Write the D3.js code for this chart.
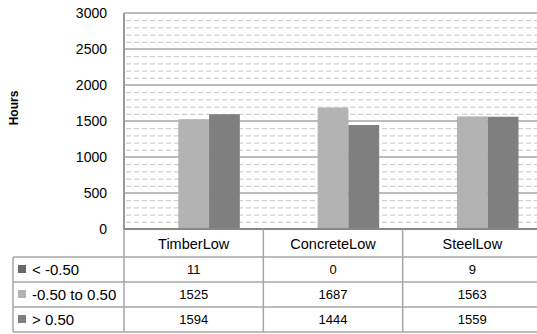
<!DOCTYPE html>
<html>
<head>
<meta charset="utf-8">
<script src="https://cdn.jsdelivr.net/npm/d3@7"></script>
<style>
  html, body { margin: 0; padding: 0; background: #fff; overflow: hidden; }
  svg { display: block; font-family: "Liberation Sans", Arial, sans-serif; }
</style>
</head>
<body>
<svg id="chart" width="537" height="334"></svg>
<script>
// Hours per deviation band, for each low-rise building type
const categories = ["TimberLow", "ConcreteLow", "SteelLow"];
const seriesNames = ["< -0.50", "-0.50 to 0.50", "> 0.50"];
const belowValues = [11, 0, 9];
const withinValues = [1525, 1687, 1563];
const aboveValues = [1594, 1444, 1559];
const yTicks = [0, 500, 1000, 1500, 2000, 2500, 3000];
const seriesColors = ["#696969", "#b3b3b3", "#7f7f7f"];

const seriesValues = [belowValues, withinValues, aboveValues];

const svg = d3.select("#chart");

// plot frame
const plotLeft = 124, plotRight = 542, plotTop = 13, plotBottom = 229;
const tableLeft = 13;
const headerBottom = 257, rowH = 25;

const x0 = d3.scaleBand().domain(categories).range([plotLeft, plotRight]);
const x1 = d3.scaleBand().domain(seriesNames)
  .range([23.5, x0.bandwidth() - 23.5]);
const y = d3.scaleLinear().domain([0, 3000]).range([plotBottom, plotTop]);

// minor dashed gridlines every 100
const minor = d3.range(100, 3000, 100).filter(v => v % 500 !== 0);
svg.append("g").selectAll("line").data(minor).join("line")
  .attr("x1", plotLeft + 2).attr("x2", plotRight)
  .attr("y1", d => y(d) + 0.5).attr("y2", d => y(d) + 0.5)
  .attr("stroke", "#c4c4c4").attr("stroke-width", 1)
  .attr("stroke-dasharray", "5,3");

// major gridlines every 500
svg.append("g").selectAll("line").data(yTicks.filter(v => v > 0)).join("line")
  .attr("x1", plotLeft).attr("x2", plotRight)
  .attr("y1", d => y(d)).attr("y2", d => y(d))
  .attr("stroke", "#a6a6a6").attr("stroke-width", 1.5);

// bars
const groups = svg.append("g").selectAll("g").data(categories).join("g")
  .attr("transform", c => `translate(${x0(c)},0)`);
groups.selectAll("rect")
  .data((c, ci) => seriesNames.map((s, si) => ({ s, si, v: seriesValues[si][ci] })))
  .join("rect")
  .attr("x", d => x1(d.s))
  .attr("width", x1.bandwidth())
  .attr("y", d => y(d.v))
  .attr("height", d => plotBottom - y(d.v))
  .attr("fill", d => seriesColors[d.si]);

// y axis
const yAxis = d3.axisLeft(y).tickValues(yTicks).tickFormat(d3.format("d"))
  .tickSize(0).tickPadding(17);
const ya = svg.append("g").attr("transform", `translate(${plotLeft},0)`).call(yAxis);
ya.select(".domain").remove();
ya.selectAll("text")
  .attr("font-size", "14px").attr("fill", "#000")
  .attr("font-family", "Liberation Sans, Arial, sans-serif");

// left and bottom frame lines
svg.append("line").attr("x1", plotLeft).attr("x2", plotLeft).attr("y1", plotTop).attr("y2", plotBottom)
  .attr("stroke", "#9a9a9a").attr("stroke-width", 2);
svg.append("line").attr("x1", plotLeft - 1).attr("x2", plotRight).attr("y1", plotBottom).attr("y2", plotBottom)
  .attr("stroke", "#888").attr("stroke-width", 2);

// axis title
svg.append("text")
  .attr("transform", `translate(18,108) rotate(-90)`)
  .attr("text-anchor", "middle")
  .attr("font-size", "12px").attr("font-weight", "bold")
  .text("Hours");

// data table
const tbl = svg.append("g");
const lineColor = "#a6a6a6";
const tableBottom = headerBottom + rowH * seriesNames.length;

// vertical separators
const xs = [plotLeft].concat(categories.map(c => x0(c) + x0.bandwidth()));
tbl.selectAll("line.v").data(xs).join("line").attr("class", "v")
  .attr("x1", d => d).attr("x2", d => d)
  .attr("y1", plotBottom).attr("y2", tableBottom)
  .attr("stroke", lineColor).attr("stroke-width", 1.5);
tbl.append("line").attr("x1", tableLeft).attr("x2", tableLeft)
  .attr("y1", headerBottom).attr("y2", tableBottom)
  .attr("stroke", lineColor).attr("stroke-width", 1.5);

// horizontal separators
const ys = d3.range(seriesNames.length + 1).map(i => headerBottom + i * rowH);
tbl.selectAll("line.h").data(ys).join("line").attr("class", "h")
  .attr("x1", tableLeft).attr("x2", plotRight)
  .attr("y1", d => d).attr("y2", d => d)
  .attr("stroke", lineColor).attr("stroke-width", 1.5);

// category headers
tbl.selectAll("text.cat").data(categories).join("text").attr("class", "cat")
  .attr("x", c => x0(c) + x0.bandwidth() / 2)
  .attr("y", (plotBottom + headerBottom) / 2 + 1)
  .attr("dy", "0.35em")
  .attr("text-anchor", "middle")
  .attr("font-size", "14.5px")
  .text(c => c);

// legend keys and values
seriesNames.forEach((s, si) => {
  const cy = headerBottom + si * rowH + rowH / 2;
  tbl.append("rect")
    .attr("x", 18).attr("y", cy - 4.5).attr("width", 8).attr("height", 8)
    .attr("fill", seriesColors[si]);
  tbl.append("text")
    .attr("x", 32).attr("y", cy).attr("dy", "0.35em")
    .attr("font-size", "15px")
    .text(s);
  categories.forEach((c, ci) => {
    tbl.append("text")
      .attr("x", x0(c) + x0.bandwidth() / 2).attr("y", cy).attr("dy", "0.35em")
      .attr("text-anchor", "middle")
      .attr("font-size", "13px")
      .text(seriesValues[si][ci]);
  });
});
</script>
</body>
</html>
